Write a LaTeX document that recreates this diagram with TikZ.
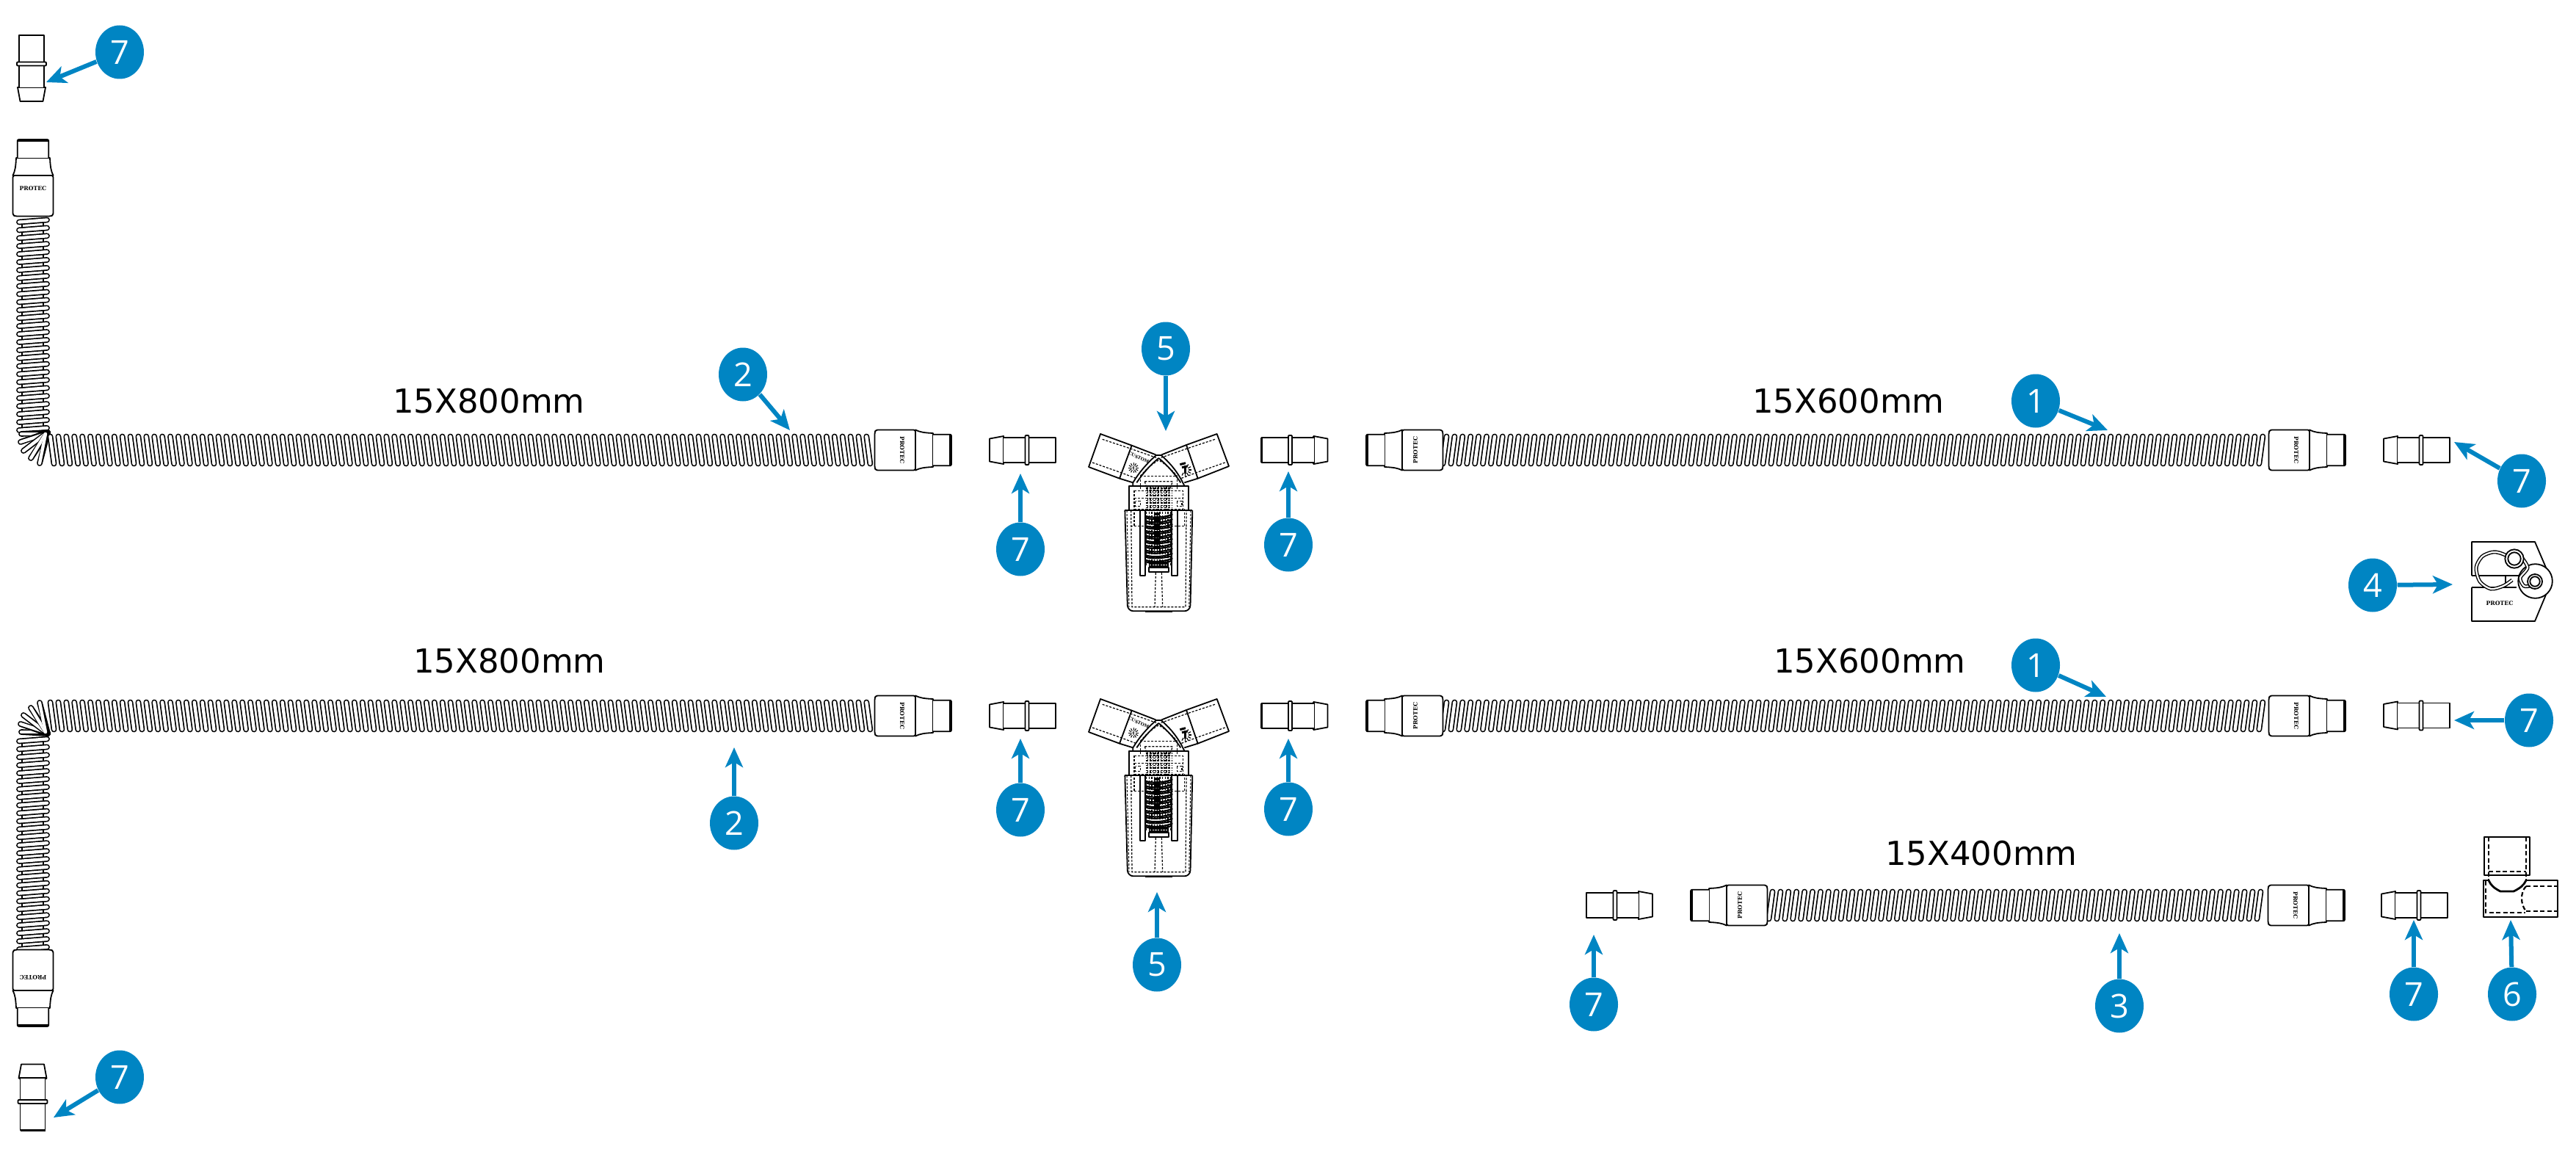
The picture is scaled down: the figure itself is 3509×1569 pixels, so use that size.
\documentclass[tikz,border=0pt]{standalone}
\usepackage{fontspec}
\setmainfont{DejaVu Sans}
\newfontfamily\numfont{Open Sans}
\newfontfamily\markfont{DejaVu Serif}
\usetikzlibrary{arrows.meta,shapes.geometric}
\definecolor{bubblecol}{RGB}{0,133,195}
\tikzset{
  part/.style={draw=black,line width=0.18mm,line join=round},
  heavy/.style={draw=black,line width=0.28mm,line join=round},
  dsh/.style={draw=black,line width=0.12mm,dash pattern=on 0.3mm off 0.2mm},
  dshb/.style={draw=black,line width=0.22mm,dash pattern=on 0.6mm off 0.35mm},
  coilblk/.style={draw=black,line width=0.78mm,line cap=round},
  coilwht/.style={draw=white,line width=0.44mm,line cap=round},
  fanblk/.style={draw=black,line width=0.78mm,line cap=round},
  fanwht/.style={draw=white,line width=0.44mm,line cap=round},
  wire/.style={draw=black,line width=0.14mm,double=white,double distance=0.22mm},
  bubble/.style={ellipse,fill=bubblecol,minimum width=6.6mm,minimum height=7.3mm,inner sep=0pt,text=white,font=\numfont\fontsize{12.8}{14}\selectfont},
  sizelabel/.style={inner sep=0pt,text=black,font=\fontsize{12.8}{14}\selectfont},
  brand/.style={inner sep=0pt,text=black,font=\markfont\bfseries\fontsize{2.2}{2.4}\selectfont},
  callout/.style={draw=bubblecol,line width=0.6mm,-{Stealth[length=2.7mm,width=2.4mm,inset=0.7mm]},fill=bubblecol},
}
% horizontal corrugated tube: first x, last index, y, slant
\newcommand\coilH[4]{%
  \foreach \k in {0,...,#2}{%
    \pgfmathsetmacro\xx{#1+\k*10.9}%
    \draw[coilblk] ({\xx+#4},{#3-18.5}) -- ({\xx-#4},{#3+18.5});
    \draw[coilwht] ({\xx+#4},{#3-18.5}) -- ({\xx-#4},{#3+18.5});
  }%
}
% vertical corrugated tube: x, first y, last index
\newcommand\coilV[3]{%
  \draw[part] ({#1-15},#2) -- ({#1-15},{#2+#3*10.9});
  \draw[part] ({#1+14},#2) -- ({#1+14},{#2+#3*10.9});
  \foreach \k in {0,...,#3}{%
    \pgfmathsetmacro\yy{#2+\k*10.9}%
    \draw[coilblk] ({#1-19},{\yy+1.5}) -- ({#1+19},{\yy-1.5});
    \draw[coilwht] ({#1-19},{\yy+1.5}) -- ({#1+19},{\yy-1.5});
  }%
}
% bend fan: corner x, y, mirror sign
\newcommand\bendfan[3]{%
  \begin{scope}[shift={(#1,#2)},yscale=#3]
    \foreach \a/\b in {-38/6,-39/17,-35/29,-25/39,-13/46}{%
      \draw[fanblk] (-2,4) -- (\a,\b);
      \draw[fanwht] (-5,6) -- (\a,\b);
    }
  \end{scope}%
}
% coupler: taper end x, y, rotation
\newcommand\coupler[3]{%
  \begin{scope}[shift={(#1,#2)},rotate=#3]
    \draw[part,fill=white] (0,-15.5) -- (19,-19) -- (19,19) -- (0,15.5) -- cycle;
    \draw[heavy] (19,-19) -- (19,19);
    \draw[part,fill=white] (19,-17) -- (90,-17) -- (90,17) -- (19,17);
    \draw[heavy] (90,-17) -- (90,17);
    \draw[part,fill=white,rounded corners=0.1mm] (48.5,-20) rectangle (53.5,20);
  \end{scope}%
}
% tube cuff: tube end x, y, rotation, node name
\newcommand\cuff[4]{%
  \begin{scope}[shift={(#1,#2)},rotate=#3]
    \draw[part,fill=white] (54,-27.5) .. controls (60,-24.5) and (66,-23.5) .. (78,-23) -- (78,23) .. controls (66,23.5) and (60,24.5) .. (54,27.5) -- cycle;
    \draw[part,fill=white,rounded corners=0.2mm] (78,-21.3) -- (103,-21.3) -- (103,21.3) -- (78,21.3);
    \draw[part] (101,-21.3) -- (101,21.3);
    \draw[part,fill=white,rounded corners=0.25mm] (54,-27.5) -- (0,-27.5) -- (-1.5,-24) -- (-1.5,24) -- (0,27.5) -- (54,27.5) -- cycle;
    \node[brand,rotate=-90,transform shape] (#4) at (36,0) {PROTEC};
  \end{scope}%
}
% Y piece, vertical offset and node prefix; inner unit is 1/3 pixel
\newcommand\ypiece[2]{%
  \begin{scope}[shift={(1520,{580+#1})},scale=0.33333]
    % upper body and roof
    \draw[part] (55,345) -- (55,245) -- (296,245) -- (296,345);
    \draw[part] (70,245) -- (70,232) .. controls (95,190) and (130,150) .. (165,120) -- (185,120) .. controls (220,150) and (255,190) .. (280,245);
    \draw[part] (85,232) .. controls (110,195) and (140,160) .. (175,132) .. controls (210,160) and (240,195) .. (265,232);
    % arms
    \draw[part] (65,80) -- (-63,33) -- (-111,168) -- (15,215) -- cycle;
    \draw[part] (65,80) -- (163,118);
    \draw[part] (15,215) -- (70,232);
    \draw[part] (288,78) -- (413,33) -- (462,165) -- (335,215) -- cycle;
    \draw[part] (187,118) -- (288,78);
    \draw[part] (335,215) -- (280,232);
    \draw[dsh] (-55,55) -- (51,90) -- (165,130);
    \draw[dsh] (-96,150) -- (18,190) -- (84,215);
    \draw[dsh] (405,55) -- (299,90) -- (185,130);
    \draw[dsh] (446,150) -- (332,190) -- (266,215);
    % arm markings
    \node[brand,font=\markfont\bfseries\fontsize{1.7}{1.9}\selectfont,rotate=-25] (#2mark) at (93,130) {CUSTOM};
    \foreach \a in {0,30,...,330}{\draw[line width=0.1mm] (72,172) ++(\a:10) -- ++(\a:11);}
    \node[brand,font=\markfont\bfseries\fontsize{1.7}{1.9}\selectfont,rotate=-25] (#2letter) at (72,172) {A};
    \foreach \a in {-60,-30,...,120}{\draw[line width=0.12mm] (283,180) ++(\a:14) -- ++(\a:12);}
    \draw[line width=0.3mm] (262,158) -- (285,152);
    \draw[line width=0.3mm] (270,170) -- (292,165);
    \draw[line width=0.35mm] (283,162) -- (283,195);
    % inner dashed structure
    \draw[dsh] (100,205) -- (250,205);
    \draw[dsh] (100,205) .. controls (125,175) and (150,155) .. (175,140) .. controls (200,155) and (225,175) .. (250,205);
    \draw[dsh] (118,227) -- (232,227) -- (220,262) -- (128,262) -- cycle;
    \draw[dsh] (100,205) -- (100,265);
    \draw[dsh] (250,205) -- (250,265);
    \draw[dsh] (75,265) rectangle (275,340);
    \draw[dsh] (75,295) -- (275,295);
    \draw[dsh] (80,308) rectangle (100,328);
    \draw[dsh] (250,308) rectangle (270,328);
    \draw[dsh] (75,340) -- (75,410);
    \draw[dsh] (280,340) -- (280,410);
    \draw[dsh] (60,410) -- (290,410);
    % spring zone
    \foreach \x in {130,141,...,226}{\draw[dsh] (\x,250) -- (\x,350);}
    \foreach \y in {255,265,...,350}{\draw[dsh] (122,\y) -- (228,\y);}
    \foreach \x in {125,136,...,225}{\draw[dsh,line width=0.15mm] (\x,350) -- (\x,570);}
    \foreach \y in {365,385,...,545}{%
      \draw[line width=0.22mm] (120,\y+3) .. controls (150,\y+14) and (200,\y+10) .. (232,\y-4);
      \draw[line width=0.22mm] (122,\y+11) .. controls (150,\y+20) and (190,\y+16) .. (225,\y+8);
    }
    \draw[line width=0.85mm,dash pattern=on 0.4mm off 0.1mm] (168,355) -- (168,500);
    \foreach \y in {558,565,572}{\draw[line width=0.2mm] (136,\y) -- (216,\y);}
    \draw[part] (135,578) rectangle (215,598);
    \draw[dsh] (163,600) -- (159,740);
    \draw[dsh] (187,600) -- (191,740);
    % bars
    \draw[part] (98,345) -- (98,612) -- (121,612) -- (121,345);
    \draw[part] (229,345) -- (229,612) -- (252,612) -- (252,345);
    % cup
    \draw[part] (37,345) -- (313,345);
    \draw[part,rounded corners=0.8mm] (37,345) -- (48,757) -- (304,757) -- (313,345);
    \draw[dsh,line width=0.1mm] (45,345) -- (54,740);
    \draw[dsh,line width=0.1mm] (306,345) -- (299,740);
    \draw[dsh] (62,345) -- (66,740) -- (285,740) -- (288,345);
    \draw[part] (120,759) -- (230,759);
  \end{scope}%
}
\begin{document}
\begin{tikzpicture}[x=0.1mm,y=-0.1mm]
\path[use as bounding box,fill=white] (0,0) rectangle (3509,1569);

% row 1, left tube
\coilV{45}{301}{26}
\bendfan{67}{585}{1}
\coilH{71}{102}{613}{-2.5}
\cuff{45}{293}{90}{brandA}
\cuff{1193}{613}{0}{brandB}
% row 2, left tube
\coilV{45}{1008}{26}
\bendfan{67}{1003}{-1}
\coilH{71}{102}{975}{-2.5}
\cuff{45}{1295}{-90}{brandC}
\cuff{1193}{975}{0}{brandD}
% right tubes
\coilH{1968}{102}{613}{2.5}
\cuff{1964}{613}{180}{brandE}
\cuff{3092}{613}{0}{brandF}
\coilH{1968}{102}{975}{2.5}
\cuff{1964}{975}{180}{brandG}
\cuff{3092}{975}{0}{brandH}
\coilH{2412}{61}{1233}{2.5}
\cuff{2406}{1233}{180}{brandI}
\cuff{3091}{1233}{0}{brandJ}
% couplers
\coupler{43}{138}{90}
\coupler{44.5}{1449.5}{-90}
\coupler{1348}{613}{0}
\coupler{1808.5}{613}{180}
\coupler{1348}{975}{0}
\coupler{1808.5}{975}{180}
\coupler{3247}{613}{0}
\coupler{3247}{974.5}{0}
\coupler{2251}{1233}{180}
\coupler{3244}{1233}{0}
% Y pieces
\ypiece{0}{ya}
\ypiece{361}{yb}

% part 4
\draw[part] (3367,784) -- (3367,738) -- (3453,738) -- (3468,773);
\draw[part] (3367,800) -- (3367,846) -- (3453,846) -- (3468,810);
\draw[part] (3367,784) -- (3436,784);
\draw[part] (3367,800) -- (3428,800);
\draw[part] (3413,784) -- (3413,800);
\draw[part,fill=white] (3453.5,791.5) circle (23.3);
\draw[wire] plot[smooth] coordinates {(3415,757) (3405,753) (3395,752) (3381,758) (3373,773) (3378,792) (3393,802) (3410,798) (3422,790)};
\draw[wire] plot[smooth] coordinates {(3434,758) (3443,773) (3433,787) (3438,798) (3446,798)};
\draw[part,fill=white] (3425,761) circle (12.7);
\draw[part] (3425,761) circle (8.7);
\draw[part,fill=white] (3453,792) circle (10);
\draw[part] (3453,792) circle (6.7);
\node[brand] (brandK) at (3405,822) {PROTEC};

% part 6
\draw[heavy] (3384,1140) rectangle (3446,1192);
\draw[dshb] (3390,1140) -- (3390,1200);
\draw[dshb] (3440.7,1140) -- (3440.7,1200);
\draw[dshb] (3390,1187) -- (3441,1187);
\draw[heavy] (3390,1199) -- (3383,1199) -- (3383,1249) -- (3484,1249) -- (3484,1199) -- (3441,1199);
\draw[heavy] (3390,1199) .. controls (3393,1206) and (3398,1210) .. (3406,1214) -- (3424,1214) .. controls (3432,1210) and (3438,1206) .. (3441,1199);
\draw[dshb] (3386,1200) -- (3386,1243) -- (3440,1243);
\draw[dshb] (3441,1207) -- (3484,1207);
\draw[dshb] (3441,1241) -- (3484,1241);
\draw[dshb] (3441,1207) .. controls (3433,1215) and (3433,1232) .. (3441,1241);

% size labels
\node[sizelabel] (lblA) at (666,546) {15X800mm};
\node[sizelabel] (lblB) at (694,900) {15X800mm};
\node[sizelabel] (lblC) at (2518,546) {15X600mm};
\node[sizelabel] (lblD) at (2547,900) {15X600mm};
\node[sizelabel] (lblE) at (2699,1162) {15X400mm};

% numbered callouts
\node[bubble] (n7a) at (163,71) {7};
\node[bubble] (n7b) at (1390,748) {7};
\node[bubble] (n7c) at (1755,742) {7};
\node[bubble] (n5a) at (1588,475) {5};
\node[bubble] (n2a) at (1012,510) {2};
\node[bubble] (n1a) at (2773,546) {1};
\node[bubble] (n7d) at (3435,655) {7};
\node[bubble] (n4) at (3232,797) {4};
\node[bubble] (n1b) at (2773,906) {1};
\node[bubble] (n2b) at (1000,1121) {2};
\node[bubble] (n7e) at (1390,1103) {7};
\node[bubble] (n7f) at (1755,1102) {7};
\node[bubble] (n5b) at (1576,1314) {5};
\node[bubble] (n7g) at (3445,981) {7};
\node[bubble] (n7h) at (2171,1368) {7};
\node[bubble] (n3) at (2887,1370) {3};
\node[bubble] (n7i) at (3288,1354) {7};
\node[bubble] (n6) at (3422,1354) {6};
\node[bubble] (n7j) at (163,1467) {7};

\coordinate (t7a) at (63,112);
\coordinate (t7b) at (1390,645);
\coordinate (t7c) at (1755,642);
\coordinate (t5a) at (1588,587);
\coordinate (t2a) at (1076,586);
\coordinate (t1a) at (2871,586);
\coordinate (t7d) at (3343,602);
\coordinate (t4) at (3341,796);
\coordinate (t1b) at (2869,949);
\coordinate (t2b) at (1000,1018);
\coordinate (t7e) at (1390,1006);
\coordinate (t7f) at (1755,1006);
\coordinate (t5b) at (1576,1215);
\coordinate (t7g) at (3343,981);
\coordinate (t7h) at (2171,1273);
\coordinate (t3) at (2887,1271);
\coordinate (t7i) at (3288,1253);
\coordinate (t6) at (3420,1253);
\coordinate (t7j) at (73,1522);

\foreach \a/\b in {n7a/t7a,n7b/t7b,n7c/t7c,n5a/t5a,n2a/t2a,n1a/t1a,n7d/t7d,n4/t4,n1b/t1b,n2b/t2b,n7e/t7e,n7f/t7f,n5b/t5b,n7g/t7g,n7h/t7h,n3/t3,n7i/t7i,n6/t6,n7j/t7j}{
  \draw[callout] (\a) -- (\b);
}
\end{tikzpicture}
\end{document}
